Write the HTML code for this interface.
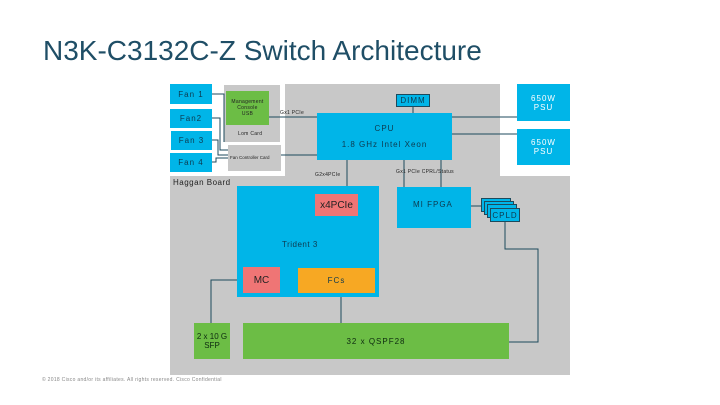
<!DOCTYPE html>
<html><head><style>
body{margin:0;width:720px;height:405px;background:#fff;position:relative;overflow:hidden;font-family:"Liberation Sans",sans-serif}
div{position:absolute;box-sizing:border-box}
.b{background:#00b5e8;color:#0d3a4f;display:flex;align-items:center;justify-content:center;text-align:center;font-size:8px;letter-spacing:1px}
.g{background:#6cbd45;color:#0d2a10;display:flex;align-items:center;justify-content:center;text-align:center;font-size:8px;letter-spacing:1px}
.r{background:#ef7575;color:#222;display:flex;align-items:center;justify-content:center;font-size:10px}
.t{font-size:5px;color:#222;white-space:nowrap;letter-spacing:.3px}
svg{position:absolute;left:0;top:0}
</style></head><body>
<div style="left:43px;top:35px;font-size:28px;color:#1f4e66;white-space:nowrap">N3K-C3132C-Z Switch Architecture</div>
<div style="left:285px;top:84px;width:215px;height:92px;background:#c8c8c8"></div>
<div style="left:170px;top:176px;width:400px;height:199px;background:#c8c8c8"></div>
<div style="left:224px;top:85px;width:56px;height:57px;background:#c8c8c8"></div>
<div style="left:228px;top:145px;width:53px;height:26px;background:#c8c8c8"></div>
<svg width="720" height="405"><g stroke="#1d4a5c" stroke-width="1" fill="none">
<path d="M212 94H224V142"/><path d="M212 118H220V150H228"/><path d="M212 140H218V155H228"/><path d="M212 162H216V158H228"/>
<path d="M269 117H317"/><path d="M281 155H317"/><path d="M413 107V113"/>
<path d="M452 117H517"/><path d="M452 134H517"/>
<path d="M347 160V194"/><path d="M404 160V187"/><path d="M441 160V187"/>
<path d="M471 206H482"/><path d="M505 222V249H538V342H509"/>
<path d="M243 280H211V323"/><path d="M341 293V323"/>
</g></svg>
<div class="b" style="left:170px;top:84px;width:42px;height:20px">Fan 1</div>
<div class="b" style="left:170px;top:109px;width:42px;height:19px">Fan2</div>
<div class="b" style="left:171px;top:131px;width:41px;height:19px">Fan 3</div>
<div class="b" style="left:170px;top:153px;width:42px;height:19px">Fan 4</div>
<div class="g" style="left:226px;top:91px;width:43px;height:34px;font-size:5px;line-height:6px;color:#222;letter-spacing:.3px">Management<br>Console<br>USB</div>
<div class="t" style="left:238px;top:131px">Lom Card</div>
<div class="t" style="left:230px;top:155px;font-size:4.5px;letter-spacing:0">Fan Controller Card</div>
<div class="t" style="left:280px;top:110px">Gx1 PCIe</div>
<div class="b" style="left:317px;top:113px;width:135px;height:47px;flex-direction:column;font-size:8px"><div style="position:static">CPU</div><div style="position:static;margin-top:7px">1.8 GHz Intel Xeon</div></div>
<div class="b" style="left:396px;top:94px;width:34px;height:13px;border:1px solid #1d4a5c">DIMM</div>
<div class="b" style="left:517px;top:84px;width:53px;height:37px;color:#fff">650W<br>PSU</div>
<div class="b" style="left:517px;top:129px;width:53px;height:36px;color:#fff">650W<br>PSU</div>
<div class="t" style="left:315px;top:172px">G2x4PCIe</div>
<div class="t" style="left:396px;top:169px">Gx1 PCIe  CPRL/Status</div>
<div style="left:173px;top:178px;font-size:8px;color:#222;letter-spacing:.5px">Haggan Board</div>
<div class="b" style="left:237px;top:186px;width:142px;height:111px"></div>
<div class="r" style="left:315px;top:194px;width:43px;height:22px">x4PCIe</div>
<div style="left:282px;top:240px;font-size:8px;color:#0d3a4f;letter-spacing:.5px">Trident 3</div>
<div class="r" style="left:243px;top:267px;width:37px;height:26px">MC</div>
<div class="b" style="left:298px;top:268px;width:77px;height:25px;background:#f7a823">FCs</div>
<div class="b" style="left:397px;top:187px;width:74px;height:41px;justify-content:flex-start;align-items:flex-start;padding:13px 0 0 16px">MI FPGA</div>
<div class="b" style="left:481px;top:198px;width:30px;height:14px;border:1px solid #1d4a5c"></div>
<div class="b" style="left:484px;top:201px;width:30px;height:14px;border:1px solid #1d4a5c"></div>
<div class="b" style="left:487px;top:204px;width:30px;height:14px;border:1px solid #1d4a5c"></div>
<div class="b" style="left:490px;top:208px;width:30px;height:14px;border:1px solid #1d4a5c">CPLD</div>
<div class="g" style="left:194px;top:323px;width:36px;height:36px;letter-spacing:0;white-space:nowrap">2 x 10 G<br>SFP</div>
<div class="g" style="left:243px;top:323px;width:266px;height:36px">32 x QSPF28</div>
<div class="t" style="left:42px;top:377px;color:#888">© 2018 Cisco and/or its affiliates. All rights reserved.   Cisco Confidential</div>
</body></html>
